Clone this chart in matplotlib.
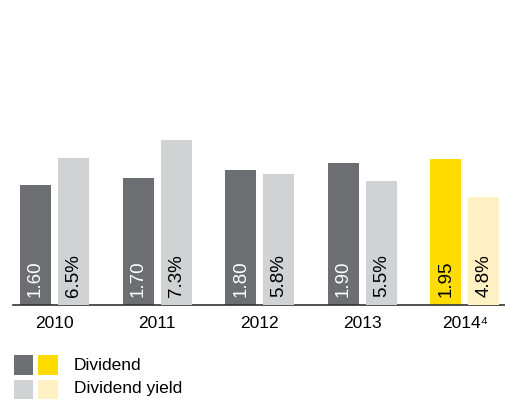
import numpy as np
import matplotlib.pyplot as plt
from matplotlib.patches import Rectangle

plt.rcParams['font.family'] = ['Liberation Sans', 'DejaVu Sans']

years = ["2010", "2011", "2012", "2013", "2014\u2074"]
dividend = [1.60, 1.70, 1.80, 1.90, 1.95]
dividend_labels = ["1.60", "1.70", "1.80", "1.90", "1.95"]
yield_pct = [6.5, 7.3, 5.8, 5.5, 4.8]
yield_labels = ["6.5%", "7.3%", "5.8%", "5.5%", "4.8%"]

DARK = "#6d6e71"
LIGHT = "#d1d2d4"
YELLOW = "#ffdc00"
PALE = "#fff1c4"

W, H = 506, 401
fig = plt.figure(figsize=(W / 100, H / 100), dpi=100)
ax = fig.add_axes([13 / W, 96 / H, 493 / W, 205 / H])
ax2 = ax.twinx()

x = np.arange(len(years))
bw = 0.302
off = 0.185

dark_cols = [DARK] * 4 + [YELLOW]
light_cols = [LIGHT] * 4 + [PALE]
ax.bar(x - off, dividend, bw, color=dark_cols, zorder=2)
ax2.bar(x + off, yield_pct, bw, color=light_cols, zorder=2)

ax.set_xlim(-0.404, 4.40)
ax.set_ylim(0, 205 / 75)
ax2.set_ylim(0, 205 / 22.6)

for i in range(len(years)):
    tc = "white" if i < 4 else "black"
    ax.annotate(dividend_labels[i], (x[i] - off, 0), xytext=(0, 8),
                textcoords="offset pixels", rotation=90, ha="center",
                va="bottom", fontsize=13.5, color=tc)
    ax2.annotate(yield_labels[i], (x[i] + off, 0), xytext=(0, 8),
                 textcoords="offset pixels", rotation=90, ha="center",
                 va="bottom", fontsize=13.5, color="black")

for a in (ax, ax2):
    for s in ["top", "right", "left"]:
        a.spines[s].set_visible(False)
    a.set_yticks([])
ax2.spines["bottom"].set_visible(False)
ax.spines["bottom"].set_color("#333333")
ax.spines["bottom"].set_linewidth(1.2)
ax.spines["bottom"].set_zorder(5)

ax.set_xticks(x)
ax.set_xticklabels(years, fontsize=12.5)
ax.tick_params(axis="x", length=0, pad=8)

# legend
def px_rect(x0, y0, w, h, c):
    fig.add_artist(Rectangle((x0 / W, 1 - (y0 + h) / H), w / W, h / H,
                             transform=fig.transFigure, color=c, lw=0))

px_rect(14, 355, 19, 20, DARK)
px_rect(38, 355, 20, 20, YELLOW)
px_rect(14, 380, 19, 19, LIGHT)
px_rect(38, 380, 20, 19, PALE)
fig.text(74 / W, 1 - 365 / H, "Dividend", fontsize=12.5, va="center")
fig.text(74 / W, 1 - 389 / H, "Dividend yield", fontsize=12.5, va="center")

fig.savefig("out.png", dpi=100)
